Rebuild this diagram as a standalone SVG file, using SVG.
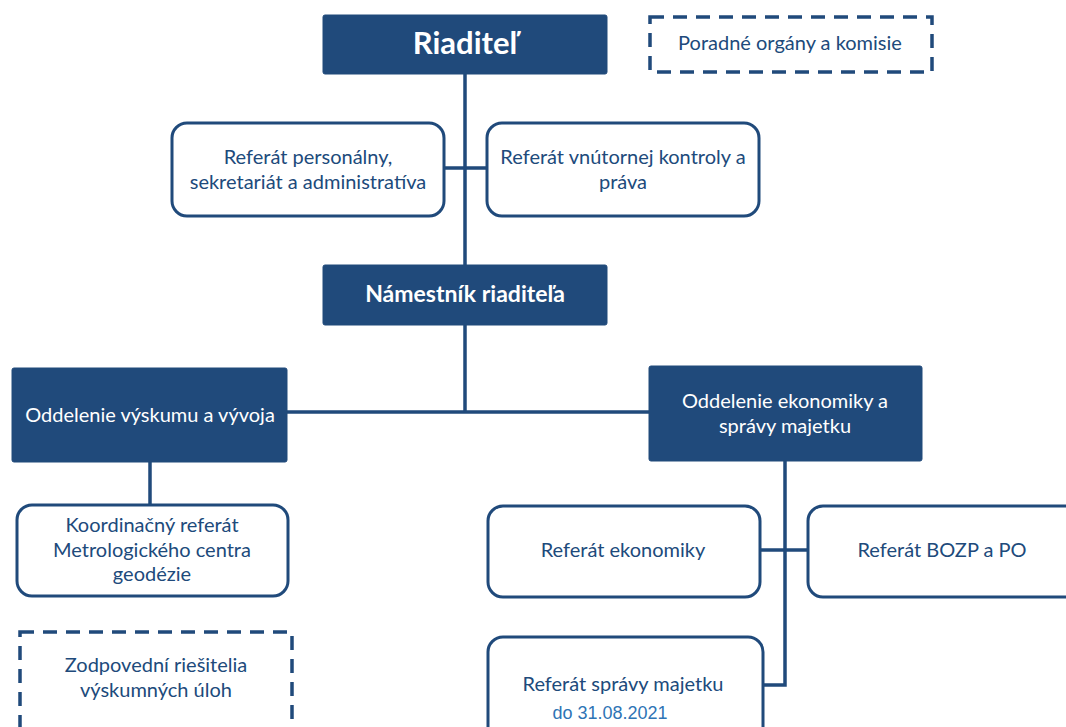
<svg xmlns="http://www.w3.org/2000/svg" width="1066" height="727" viewBox="0 0 1066 727">
<style>
.filled{fill:#204a7b;stroke:#204a7b;stroke-width:1}
.outl{fill:#ffffff;stroke:#204a7b;stroke-width:3}
.dash{fill:#ffffff;stroke:#204a7b;stroke-width:3.5;stroke-dasharray:14 9}
.w{fill:#ffffff;font-family:Lato,"Open Sans","Liberation Sans",sans-serif;font-size:20px;text-anchor:middle}
.wb{fill:#ffffff;font-family:Lato,"Open Sans","Liberation Sans",sans-serif;font-weight:bold;text-anchor:middle}
.d{fill:#204a7b;font-family:Lato,"Open Sans","Liberation Sans",sans-serif;font-size:20px;text-anchor:middle}
.conn{stroke:#204a7b;stroke-width:3.5;fill:none}
</style>
<rect width="1066" height="727" fill="#ffffff"/>
<g id="connectors">
<path class="conn" d="M465 74 V265 M444 168 H487 M465 325 V412 M287 412 H649 M150 462 V505 M785 461 V685 H763 M760 550 H808"/>
</g>
<g id="riaditel">
<rect class="filled" x="323" y="15" width="284" height="59" rx="2"/>
<text class="wb" x="465" y="54" font-size="31">Riaditeľ</text>
</g>
<g id="poradne">
<rect class="dash" x="650" y="17" width="282" height="55"/>
<text class="d" x="790" y="50">Poradné orgány a komisie</text>
</g>
<g id="ref-personalny">
<rect class="outl" x="172" y="123" width="272" height="93" rx="15"/>
<text class="d" x="308" y="164">Referát personálny,</text>
<text class="d" x="308" y="189">sekretariát a administratíva</text>
</g>
<g id="ref-kontroly">
<rect class="outl" x="487" y="123" width="272" height="93" rx="15"/>
<text class="d" x="623" y="164">Referát vnútornej kontroly a</text>
<text class="d" x="623" y="189">práva</text>
</g>
<g id="namestnik">
<rect class="filled" x="323" y="265" width="284" height="60" rx="2"/>
<text class="wb" x="465" y="302" font-size="23">Námestník riaditeľa</text>
</g>
<g id="odd-vyskumu">
<rect class="filled" x="12" y="368" width="275" height="94" rx="2"/>
<text class="w" x="150" y="422">Oddelenie výskumu a vývoja</text>
</g>
<g id="odd-ekonomiky">
<rect class="filled" x="649" y="366" width="273" height="95" rx="2"/>
<text class="w" x="785" y="408">Oddelenie ekonomiky a</text>
<text class="w" x="785" y="433">správy majetku</text>
</g>
<g id="koordinacny">
<rect class="outl" x="17" y="505" width="271" height="91" rx="15"/>
<text class="d" x="152" y="532">Koordinačný referát</text>
<text class="d" x="152" y="557">Metrologického centra</text>
<text class="d" x="152" y="581">geodézie</text>
</g>
<g id="zodpovedni">
<rect class="dash" x="20" y="632" width="272" height="110"/>
<text class="d" x="156" y="672">Zodpovední riešitelia</text>
<text class="d" x="156" y="697">výskumných úloh</text>
</g>
<g id="ref-ekonomiky">
<rect class="outl" x="488" y="506" width="272" height="91" rx="15"/>
<text class="d" x="623" y="557">Referát ekonomiky</text>
</g>
<g id="ref-bozp">
<rect class="outl" x="808" y="506" width="272" height="91" rx="15"/>
<text class="d" x="942" y="557">Referát BOZP a PO</text>
</g>
<g id="ref-spravy">
<rect class="outl" x="488" y="637" width="275" height="105" rx="15"/>
<text class="d" x="623" y="691">Referát správy majetku</text>
<text x="610" y="719" fill="#2e74b5" font-family="'Liberation Sans',Arial,sans-serif" font-size="18" text-anchor="middle">do 31.08.2021</text>
</g>
</svg>
